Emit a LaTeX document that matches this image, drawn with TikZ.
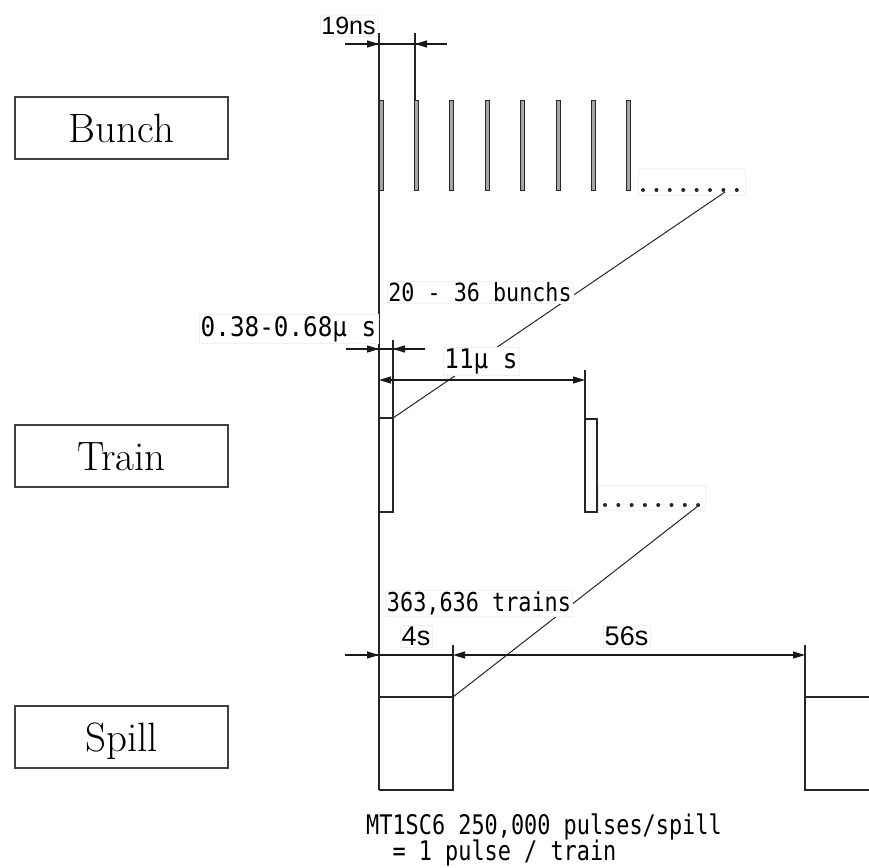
\documentclass[tikz,border=0pt]{standalone}
\usepackage{fontspec}
\usepackage{graphicx}
\usetikzlibrary{arrows.meta}
\newfontfamily\monof{DejaVu Sans Mono}
\newfontfamily\arialf{Liberation Sans}
\newcommand{\mlbl}[3]{{\fontsize{#1}{#1}\selectfont\monof\scalebox{#2}[1]{#3}}}
\newcommand{\albl}[2]{{\fontsize{#1}{#1}\selectfont\arialf #2}}
\tikzset{
  wave/.style={draw=black!85, line width=1.3pt},
  bunchbar/.style={draw=black!85, fill=black!35, line width=1pt},
  dimline/.style={draw=black!90, line width=1.2pt},
  tipr/.style={-{Triangle[length=12pt,width=7pt]}},
  tipb/.style={{Triangle[length=12pt,width=7pt]}-{Triangle[length=12pt,width=7pt]}},
  slant/.style={draw=black!85, line width=1pt},
  lbl/.style={fill=white, draw=black!6, line width=0.5pt, inner sep=1.5pt},
  dotbox/.style={fill=white, draw=black!6, line width=0.5pt, inner sep=0pt},
  namebox/.style={draw=black!75, line width=1.5pt, minimum width=213pt, minimum height=62pt,
    inner sep=0pt, text height=28pt, text depth=0pt, font=\fontsize{41}{41}\selectfont}
}
\begin{document}
\begin{tikzpicture}[x=1pt,y=-1pt]
\useasboundingbox (0,0) rectangle (869,867);
\fill[white] (0,0) rectangle (869,867);

% name boxes
\node[namebox] (bunch) at (121.5,128) {Bunch};
\node[namebox] (train) at (121.5,456) {Train};
\node[namebox] (spill) at (121.5,737) {Spill};

% dot boxes
\node[dotbox, minimum width=107pt, minimum height=27pt] (bdots) at (691.5,181.5) {};
\node[dotbox, minimum width=107pt, minimum height=25pt] (tdots) at (651.5,497.5) {};

% main time line
\coordinate (top) at (379,33);
\coordinate (bot) at (379,790);
\draw[wave] (top) -- (bot);

% bunches
\foreach \k in {0,...,7}
  \draw[bunchbar] ({379+35.4*\k},100) rectangle ++(4,90);
\draw[wave] (415,33) -- (415,100);

% trains
\draw[wave] (379,418) rectangle (393,512);
\draw[wave] (393,340) -- (393,418);
\draw[wave] (585,419) rectangle (597,512);
\draw[wave] (585,370) -- (585,419);

% spills
\draw[wave] (379,697) -- (453,697) -- (453,790) -- (379,790);
\draw[wave] (453,645) -- (453,697);
\draw[wave] (869,697) -- (805,697) -- (805,790) -- (869,790);
\draw[wave] (805,645) -- (805,697);

% slanted zoom lines
\coordinate (b1) at (725,192);
\coordinate (b2) at (393,418);
\coordinate (t1) at (698,506);
\coordinate (t2) at (453,697);
\draw[slant] (b1) -- (b2);
\draw[slant] (t1) -- (t2);

% dots
\foreach \k in {0,...,7} \fill[black!85] ({643+13.4*\k},190) circle (2);
\foreach \k in {0,...,7} \fill[black!85] ({605+13.3*\k},505) circle (2);

% dimension: 19ns
\draw[dimline] (345,44) -- (447,44);
\draw[dimline, tipr] (346,44) -- (379,44);
\draw[dimline, tipr] (446,44) -- (415,44);
% dimension: 0.38-0.68us
\draw[dimline] (346,349) -- (425,349);
\draw[dimline, tipr] (347,349) -- (379,349);
\draw[dimline, tipr] (424,349) -- (393,349);
% dimension: 11us
\draw[dimline, tipb] (379,380) -- (585,380);
% dimension: spill
\draw[dimline] (345,655) -- (453,655);
\draw[dimline, tipr] (346,655) -- (379,655);
\draw[dimline, tipb] (453,655) -- (805,655);

% labels
\node[lbl] (l19) at (348.5,26) {\albl{25}{19ns}};
\node[lbl] (lbn) at (480,292.5) {\mlbl{25}{0.87}{20 - 36 bunchs}};
\node[lbl] (l038) at (288.5,329) {\mlbl{27}{0.9}{0.38-0.68μ\hspace{0.6em}s}};
\node[lbl] (l11) at (481,361.5) {\mlbl{27}{0.9}{11μ\hspace{0.6em}s}};
\node[lbl] (ltr) at (479,603.5) {\mlbl{26}{0.84}{363,636 trains}};
\node[lbl] (l4) at (416,636) {\albl{27}{4s}};
\node[lbl] (l56) at (626.5,636) {\albl{27}{56s}};

% bottom note
\node[anchor=base west, inner sep=0pt] (n1) at (366,834) {\mlbl{27}{0.81}{MT1SC6 250,000 pulses/spill}};
\node[anchor=base west, inner sep=0pt] (n2) at (366,860) {\mlbl{27}{0.81}{\phantom{00}= 1 pulse / train}};
\end{tikzpicture}
\end{document}
